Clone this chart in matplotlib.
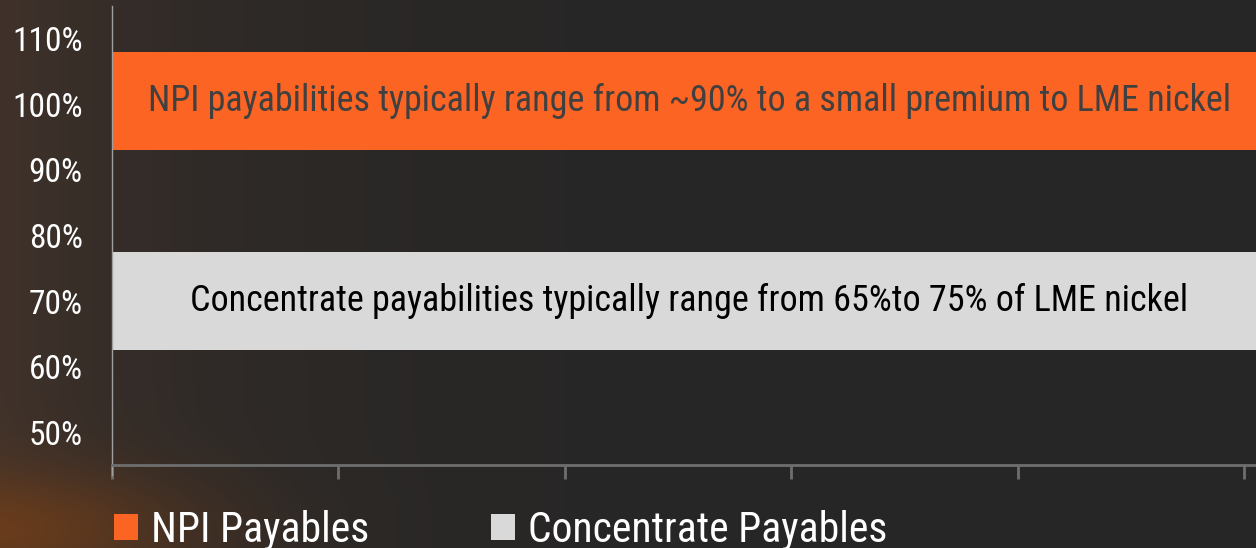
import numpy as np
import matplotlib
matplotlib.use("Agg")
import matplotlib.pyplot as plt
from matplotlib.patches import Patch

plt.rcParams['font.family'] = ['Liberation Sans Narrow', 'Roboto Condensed', 'Open Sans Condensed',
                               'DejaVu Sans Condensed', 'DejaVu Sans']
plt.rcParams['font.stretch'] = 'condensed'

# data
series = ["NPI Payables", "Concentrate Payables"]
band_low = [93, 62.5]
band_high = [108, 77.5]
band_colors = ["#fc6424", "#d9d9d9"]
band_text = ["NPI payabilities typically range from ~90% to a small premium to LME nickel",
             "Concentrate payabilities typically range from 65%to 75% of LME nickel"]
band_text_colors = ["#404040", "#000000"]
yticks = [50, 60, 70, 80, 90, 100, 110]
ytick_labels = ["50%", "60%", "70%", "80%", "90%", "100%", "110%"]
xticks = [0, 1, 2, 3, 4, 5]

W, H = 1256, 548
fig = plt.figure(figsize=(W / 100, H / 100), dpi=100)
fig.patch.set_facecolor("#262626")

# textured-ish background: warm glow on the left, orange streak at bottom left
bg = fig.add_axes([0, 0, 1, 1], zorder=0)
yy, xx = np.mgrid[0:H, 0:W]
base = np.array([38, 38, 38], dtype=float)
brown = np.array([64, 50, 42], dtype=float)
orange = np.array([115, 62, 24], dtype=float)
w1 = np.exp(-xx / 220.0)[..., None]
w2 = 0.8 * np.exp(-(((xx + 20) / 200.0) ** 2 + ((yy - 530) / 60.0) ** 2))[..., None]
img = base * (1 - w1) + brown * w1
img = img * (1 - w2) + orange * w2
bg.imshow(img.astype(np.uint8), aspect="auto", extent=[0, W, H, 0])
bg.axis("off")

ax = fig.add_axes([112 / W, 83 / H, 1 - 112 / W, (465 - 6) / H], zorder=1)
ax.patch.set_alpha(0)
ax.set_xlim(0, 5.053)
ax.set_ylim(45, 115)

for lo, hi, c, t, tc in zip(band_low, band_high, band_colors, band_text, band_text_colors):
    ax.axhspan(lo, hi, xmin=0.001, xmax=1, color=c, lw=0)
    ax.text(2.55, (lo + hi) / 2, t, color=tc, fontsize=26, ha="center", va="center")

ax.set_yticks(yticks)
ax.set_yticklabels(ytick_labels)
ax.set_xticks(xticks)
ax.set_xticklabels([])
ax.tick_params(axis="y", length=0, pad=21, labelsize=24, labelcolor="white")
ax.tick_params(axis="x", length=10, width=2, color="#6e6e6e", direction="out")

for s in ["top", "right"]:
    ax.spines[s].set_visible(False)
ax.spines["bottom"].set_color("#6e6e6e")
ax.spines["bottom"].set_linewidth(2)
ax.spines["left"].set_color("#a0a0a0")
ax.spines["left"].set_linewidth(1)
ax.spines["left"].set_bounds(43.5, 115)

handles = [Patch(facecolor=c, edgecolor="none") for c in band_colors]
fig.legend(handles, series, loc="lower left", bbox_to_anchor=(93 / W, -23.5 / H),
           ncol=2, frameon=False, fontsize=30, labelcolor="white", borderpad=0,
           handlelength=0.58, handleheight=0.58, handletextpad=0.31, columnspacing=2.93)

fig.savefig("out.png", dpi=100, facecolor=fig.get_facecolor())
